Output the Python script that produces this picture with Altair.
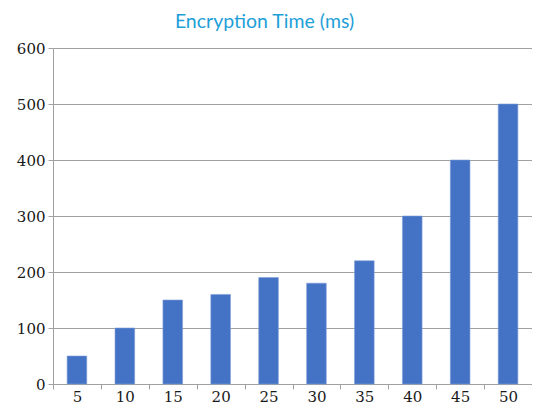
import altair as alt
import pandas as pd

categories = ["5", "10", "15", "20", "25", "30", "35", "40", "45", "50"]
values = [50, 100, 150, 160, 190, 180, 220, 300, 400, 500]

df = pd.DataFrame({"size": categories, "time": values})

chart = alt.Chart(df).mark_bar(
    width={"band": 0.41}, color="#4472C4", stroke="#7f9ed8", strokeWidth=0.6
).encode(
    x=alt.X("size:N", sort=categories,
            scale=alt.Scale(paddingInner=0, paddingOuter=0),
            axis=alt.Axis(title=None, labelAngle=0, tickBand="extent",
                          domainColor="#a0a0a0", tickColor="#a0a0a0",
                          tickSize=5, labelPadding=0, grid=False,
                          labelFont="DejaVu Serif", labelFontSize=15,
                          labelColor="#1a1a1a")),
    y=alt.Y("time:Q", scale=alt.Scale(domain=[0, 600], nice=False),
            axis=alt.Axis(title=None, values=[0, 100, 200, 300, 400, 500, 600],
                          grid=True, gridColor="#a0a0a0", gridWidth=1.2,
                          domainColor="#a0a0a0", tickColor="#a0a0a0",
                          tickSize=5, labelPadding=3,
                          labelFont="DejaVu Serif", labelFontSize=15,
                          labelColor="#1a1a1a")),
).properties(
    width=479, height=336,
    title=alt.TitleParams("Encryption Time (ms)", font="Lato", fontSize=19.5,
                          fontWeight="normal", color="#1E9FD8",
                          anchor="middle", frame="group", dx=-28, offset=9),
    autosize=alt.AutoSizeParams(type="none"),
    padding={"left": 45, "top": 40, "right": 0, "bottom": 21},
).configure_view(stroke=None)

chart.save("out.html", embed_options={"renderer": "svg", "actions": False})
